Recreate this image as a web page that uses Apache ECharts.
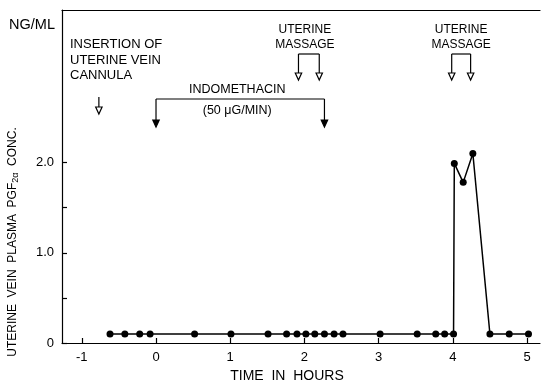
<!DOCTYPE html>
<html><head><meta charset="utf-8">
<script src="https://cdn.jsdelivr.net/npm/echarts@6/dist/echarts.min.js"></script>
<style>html,body{margin:0;padding:0;background:#fff}#c{width:544px;height:381px}</style>
</head><body><div id="c"></div>
<script>
// Data
const timesHours = [-0.62,-0.42,-0.22,-0.08,0.52,1.01,1.51,1.76,1.9,2.02,2.14,2.27,2.4,2.52,3.02,3.52,3.77,3.89,4.01,4.02,4.14,4.27,4.5,4.76,5.02];
const pgfConc    = [0.1,0.1,0.1,0.1,0.1,0.1,0.1,0.1,0.1,0.1,0.1,0.1,0.1,0.1,0.1,0.1,0.1,0.1,0.1,1.99,1.78,2.10,0.1,0.1,0.1];
const xTickValues = [-1,0,1,2,3,4,5];
const xTickLabels = ['-1','0','1','2','3','4','5'];
const yTickValues = [0,0.5,1,1.5,2];
const yLabelValues = [0,1,2];
const yTickLabels = ['0','1.0','2.0'];
const insertionTime = -0.77;
const indomethacinTimes = [0, 2.27];
const massage1Times = [1.92, 2.2];
const massage2Times = [3.985, 4.24];

const FONT = 'Liberation Sans';
const chart = echarts.init(document.getElementById('c'), null, {renderer:'canvas'});
const xMin = -1.267, xMax = 5.175;
chart.setOption({
  animation:false,
  backgroundColor:'#fff',
  grid:{left:62,right:4,top:10,bottom:38},
  xAxis:[{
    type:'value', min:xMin, max:xMax, position:'bottom',
    axisLine:{onZero:false,lineStyle:{color:'#000',width:1.2}},
    axisTick:{show:true,inside:true,length:5,customValues:xTickValues,lineStyle:{color:'#000',width:1.2}},
    axisLabel:{customValues:xTickValues,color:'#000',fontFamily:FONT,fontSize:13,margin:8,
      formatter:v=>xTickLabels[xTickValues.indexOf(Math.round(v))] ?? ''},
    splitLine:{show:false}
  },{
    type:'value', min:xMin, max:xMax, position:'top',
    axisLine:{show:true,onZero:false,lineStyle:{color:'#000',width:1.2}},
    axisTick:{show:false},axisLabel:{show:false},splitLine:{show:false}
  }],
  yAxis:{
    type:'value', min:0, max:3.69, position:'left',
    axisLine:{show:true,onZero:false,lineStyle:{color:'#000',width:1.2}},
    axisTick:{show:true,inside:true,length:5,customValues:yTickValues,lineStyle:{color:'#000',width:1.2}},
    axisLabel:{customValues:yLabelValues,color:'#000',fontFamily:FONT,fontSize:13,margin:8,
      formatter:v=>yTickLabels[yLabelValues.indexOf(Math.round(v))] ?? ''},
    splitLine:{show:false}
  },
  series:[{
    type:'line', xAxisIndex:0,
    data: timesHours.map((t,i)=>[t,pgfConc[i]]),
    symbol:'circle', symbolSize:7,
    itemStyle:{color:'#000'},
    lineStyle:{color:'#000',width:1.5}
  }]
});

function X(t){ return chart.convertToPixel({xAxisIndex:0}, t); }
const g = [];
function txt(x,y,s,align,size){
  g.push({type:'text',x:x,y:y,style:{text:s,fill:'#000',font:(size||12)+'px "'+FONT+'"',align:align||'left',verticalAlign:'middle'}});
}
function arrow(x,y1,y2,filled){
  g.push({type:'line',shape:{x1:x,y1:y1,x2:x,y2:y2-6},style:{stroke:'#000',lineWidth:1.2}});
  g.push({type:'polygon',shape:{points:[[x-3.2,y2-7],[x+3.2,y2-7],[x,y2]]},style:{stroke:'#000',lineWidth:1.2,fill:filled?'#000':'#fff'}});
}
function bracket(t1,t2,yTop,yBot,filled){
  const a=X(t1), b=X(t2);
  g.push({type:'polyline',shape:{points:[[a,yTop],[b,yTop]]},style:{stroke:'#000',lineWidth:1.2}});
  arrow(a,yTop,yBot,filled); arrow(b,yTop,yBot,filled);
  return (a+b)/2;
}
// insertion
txt(70,44,'INSERTION OF',null,13); txt(70,60,'UTERINE VEIN',null,13); txt(70,75,'CANNULA',null,13);
arrow(X(insertionTime),97,114,false);
// indomethacin
const mi = bracket(indomethacinTimes[0],indomethacinTimes[1],99,127,true);
txt(mi-3,90,'INDOMETHACIN','center',12.5);
txt(mi-3,111,'(50 μG/MIN)','center',12.5);
// massages
const m1 = bracket(massage1Times[0],massage1Times[1],54,80,false);
txt(m1-4,30,'UTERINE','center'); txt(m1-4,45,'MASSAGE','center');
const m2 = bracket(massage2Times[0],massage2Times[1],54,80,false);
txt(m2,30,'UTERINE','center'); txt(m2,45,'MASSAGE','center');
// axis titles
txt(55,25,'NG/ML','right',14.5);
txt(287,376,'TIME  IN  HOURS','center',14);
g.push({type:'text',x:13,y:242,rotation:Math.PI/2,style:{
  text:'UTERINE  VEIN  PLASMA  PGF{sub|2α}  CONC.',
  rich:{sub:{fontSize:9,fontFamily:FONT,fill:'#000',verticalAlign:'bottom',padding:[6,0,0,0]}},
  fill:'#000',font:'12px "'+FONT+'"',align:'center',verticalAlign:'middle'}});
chart.setOption({graphic:g});
</script></body></html>
